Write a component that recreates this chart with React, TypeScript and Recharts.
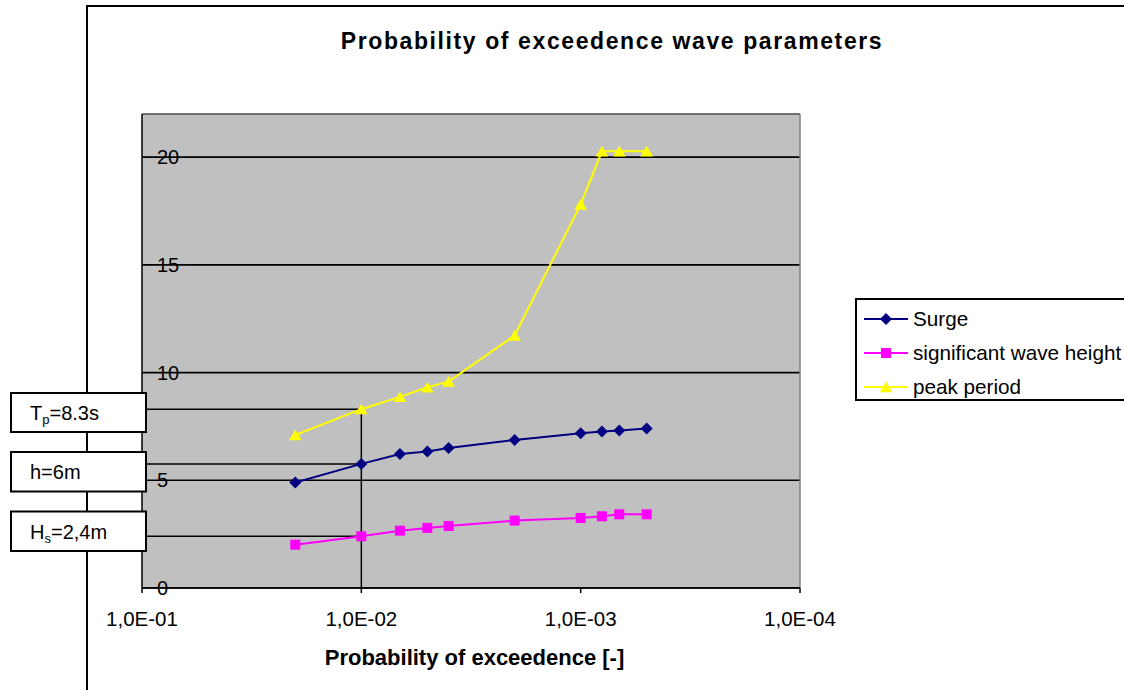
import React from "react";
import { LineChart, Line, XAxis, YAxis, CartesianGrid, ReferenceLine, Legend } from "recharts";

// ---- data ----
const probabilities = [0.02, 0.01, 1 / 150, 0.005, 0.004, 0.002, 0.001, 0.0008, 1 / 1500, 0.0005];
const surge = [4.9, 5.76, 6.22, 6.34, 6.5, 6.87, 7.18, 7.26, 7.31, 7.4];
const significantWaveHeight = [2.01, 2.4, 2.66, 2.79, 2.88, 3.13, 3.25, 3.33, 3.42, 3.42];
const peakPeriod = [7.1, 8.3, 8.87, 9.32, 9.58, 11.72, 17.8, 20.27, 20.27, 20.27];

const seriesKeys = ["surge", "hs", "tp"];
const seriesNames = ["Surge", "significant wave height", "peak period"];
const seriesColors = ["#000080", "#FF00FF", "#FFFF00"];

const xTicks = [0.1, 0.01, 0.001, 0.0001];
const xTickLabels = ["1,0E-01", "1,0E-02", "1,0E-03", "1,0E-04"];
const yTicks = [0, 5, 10, 15, 20];

const annotationX = 0.01;
const annotationValues = [8.3, 5.75, 2.4];

const title = "Probability of exceedence wave parameters";
const xAxisTitle = "Probability of exceedence [-]";

const data = probabilities.map((p, i) => ({
  p,
  surge: surge[i],
  hs: significantWaveHeight[i],
  tp: peakPeriod[i],
}));

const FONT = "'Liberation Sans', Arial, sans-serif";

// ---- markers ----
function Marker({ kind, cx, cy, color }: { kind: number; cx: number; cy: number; color: string }) {
  if (cx == null || cy == null) return null;
  if (kind === 0) {
    return <path d={`M${cx} ${cy - 6}L${cx + 6} ${cy}L${cx} ${cy + 6}L${cx - 6} ${cy}Z`} fill={color} />;
  }
  if (kind === 1) {
    return <rect x={cx - 5} y={cy - 5} width={10} height={10} fill={color} />;
  }
  return <path d={`M${cx} ${cy - 5.5}L${cx + 6.3} ${cy + 5.2}L${cx - 6.3} ${cy + 5.2}Z`} fill={color} />;
}

const XTick = (props: any) => {
  const { x, y, payload } = props;
  let idx = 0;
  let best = Infinity;
  xTicks.forEach((t, i) => {
    const d = Math.abs(Math.log10(t) - Math.log10(payload.value));
    if (d < best) {
      best = d;
      idx = i;
    }
  });
  return (
    <text x={x} y={y + 31} textAnchor="middle" fontSize={20.5} fontFamily={FONT} fill="#000">
      {xTickLabels[idx]}
    </text>
  );
};

const YTick = (props: any) => {
  const { y, payload } = props;
  return (
    <text x={157} y={y} dy="0.36em" textAnchor="start" fontSize={20} fontFamily={FONT} fill="#000">
      {payload.value}
    </text>
  );
};

const LegendContent = () => (
  <div
    style={{
      width: 300,
      height: 103,
      boxSizing: "border-box",
      border: "2px solid #000",
      background: "#fff",
      paddingTop: 2,
      paddingLeft: 6,
      fontFamily: FONT,
      fontSize: 20.7,
      color: "#000",
    }}
  >
    {seriesNames.map((name, i) => (
      <div key={name} style={{ height: 34, display: "flex", alignItems: "center", whiteSpace: "nowrap" }}>
        <svg width={46} height={16} style={{ marginRight: 4, flex: "none" }}>
          <line x1={1} y1={8} x2={45} y2={8} stroke={seriesColors[i]} strokeWidth={2} />
          <Marker kind={i} cx={23} cy={8} color={seriesColors[i]} />
        </svg>
        <span>{name}</span>
      </div>
    ))}
  </div>
);

const boxStyle = { fill: "#fff", stroke: "#000", strokeWidth: 2 };

export default function App() {
  return (
    <div style={{ position: "absolute", left: 0, top: 0, width: 1124, height: 690, background: "#fff", overflow: "hidden" }}>
      <div style={{ position: "absolute", left: 0, top: 0 }}>
        <LineChart width={1124} height={690} data={data} margin={{ top: 114, right: 324, bottom: 72, left: 82 }}>
          <CartesianGrid vertical={false} horizontal stroke="#000" strokeWidth={1.7} fill="#C0C0C0" />
          <XAxis
            dataKey="p"
            type="number"
            scale="log"
            domain={[0.0001, 0.1]}
            reversed
            allowDataOverflow
            ticks={xTicks}
            interval={0}
            tickSize={5}
            tickMargin={2}
            height={30}
            axisLine={{ stroke: "#000", strokeWidth: 1.5 }}
            tickLine={{ stroke: "#000", strokeWidth: 1.5 }}
            tick={<XTick />}
          />
          <YAxis
            type="number"
            domain={[0, 22]}
            ticks={yTicks}
            interval={0}
            width={60}
            tickLine={false}
            axisLine={{ stroke: "#000", strokeWidth: 1.5 }}
            tick={<YTick />}
          />
          <ReferenceLine y={22} stroke="#808080" strokeWidth={1.5} />
          <ReferenceLine x={0.0001} stroke="#808080" strokeWidth={1.5} />
          {annotationValues.map((v) => (
            <ReferenceLine
              key={`a-${v}`}
              segment={[
                { x: 0.1, y: v },
                { x: annotationX, y: v },
              ]}
              stroke="#000"
              strokeWidth={1.5}
            />
          ))}
          <ReferenceLine
            segment={[
              { x: annotationX, y: 0 },
              { x: annotationX, y: annotationValues[0] },
            ]}
            stroke="#000"
            strokeWidth={1.5}
          />
          {seriesKeys.map((k, i) => (
            <Line
              key={k}
              dataKey={k}
              name={seriesNames[i]}
              stroke={seriesColors[i]}
              strokeWidth={2}
              isAnimationActive={false}
              activeDot={false}
              dot={(p: any) => <Marker key={`${k}-${p.index}`} kind={i} cx={p.cx} cy={p.cy} color={seriesColors[i]} />}
            />
          ))}
          <Legend
            layout="vertical"
            align="center"
            verticalAlign="middle"
            content={<LegendContent />}
            wrapperStyle={{ left: 855, top: 298, width: 300, height: 103 }}
          />
        </LineChart>
      </div>
      <svg
        width={1124}
        height={690}
        style={{ position: "absolute", left: 0, top: 0, pointerEvents: "none" }}
      >
        <line x1={87} y1={6} x2={1124} y2={6} stroke="#000" strokeWidth={2} />
        <line x1={87} y1={5} x2={87} y2={690} stroke="#000" strokeWidth={2} />
        <text x={612} y={48.5} textAnchor="middle" fontSize={23} fontWeight="bold" fontFamily={FONT} letterSpacing={1.6} fill="#000">
          {title}
        </text>
        <text x={474.5} y={665} textAnchor="middle" fontSize={22} fontWeight="bold" fontFamily={FONT} fill="#000">
          {xAxisTitle}
        </text>
        <rect x={11} y={393} width={135} height={39} {...boxStyle} />
        <text x={30} y={419.5} fontSize={20} fontFamily={FONT} fill="#000">
          T<tspan fontSize={13} dy={4}>p</tspan>
          <tspan dy={-4}>=8.3s</tspan>
        </text>
        <rect x={11} y={452} width={135} height={39.5} {...boxStyle} />
        <text x={30} y={479} fontSize={20} fontFamily={FONT} fill="#000">
          h=6m
        </text>
        <rect x={11} y={511.5} width={135} height={39.5} {...boxStyle} />
        <text x={30} y={538.5} fontSize={20} fontFamily={FONT} fill="#000">
          H<tspan fontSize={13} dy={4}>s</tspan>
          <tspan dy={-4}>=2,4m</tspan>
        </text>
      </svg>
    </div>
  );
}
